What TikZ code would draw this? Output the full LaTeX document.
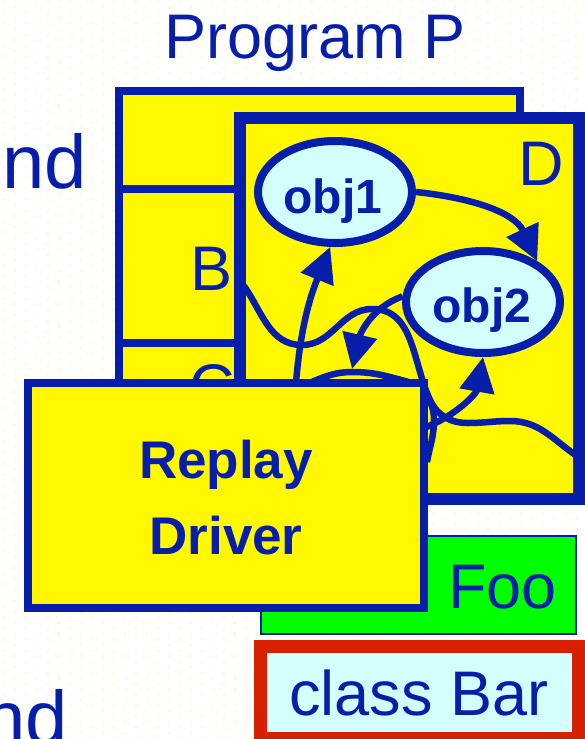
\documentclass[tikz,border=0pt]{standalone}
\usepackage{fontspec}
\setmainfont{Liberation Sans}
\usetikzlibrary{arrows.meta,shapes.geometric}
\definecolor{dblue}{RGB}{6,30,170}
\definecolor{yel}{RGB}{255,248,0}
\definecolor{lcyan}{RGB}{212,255,255}
\definecolor{lgreen}{RGB}{0,255,0}
\definecolor{bred}{RGB}{215,32,0}
\definecolor{dotc}{RGB}{255,250,208}
\begin{document}
\begin{tikzpicture}[x=1pt,y=1pt,
  yellowbox/.style={draw=dblue, fill=yel, line width=#1, inner sep=0pt},
  objell/.style={ellipse, draw=dblue, fill=lcyan, line width=8pt, inner sep=0pt,
    minimum width=154pt, minimum height=102pt},
  lbl/.style={text=dblue, inner sep=0pt},
  big/.style={font=\fontsize{63}{70}\selectfont},
  huge/.style={font=\fontsize{76}{80}\selectfont},
  boldbig/.style={font=\fontsize{53}{60}\selectfont\bfseries},
  boldobj/.style={font=\fontsize{48}{54}\selectfont\bfseries},
  wave/.style={draw=dblue, line width=6.5pt},
  arr/.style={draw=dblue, line width=6.5pt, -{Triangle[length=35pt,width=34pt]}},
  divider/.style={draw=dblue, line width=8pt}
]
\fill[white] (0,0) rectangle (584,-739);
\useasboundingbox (0,0) rectangle (584,-739);
% faint dotted background
\foreach \k in {0,...,134} {
  \pgfmathsetmacro{\xs}{mod(\k,2)==0 ? 4 : 15}
  \foreach \i in {0,...,26} {
    \fill[dotc] (\xs+22*\i, -1.7-5.5*\k) circle (1.5);
  }
}

% title and side texts
\node[lbl,big,anchor=base] (title) at (315,-58.5) {Program P};
\node[lbl,huge,anchor=base east] (nda) at (87,-188) {nd};
\node[lbl,huge,anchor=base east] (ndb) at (68,-744) {nd};

% back box A with B and C
\node[yellowbox=8pt, minimum width=401pt, minimum height=369pt] (boxA) at (319.5,-275.5) {};
\draw[divider] (119,-189) -- (240,-189);
\draw[divider] (119,-343) -- (240,-343);
\node[lbl,big,anchor=base east] (labB) at (233,-290) {B};
\node[lbl,big,anchor=base east] (labC) at (235,-408) {C};

% box D
\node[yellowbox=12pt, minimum width=339pt, minimum height=381.5pt] (boxD) at (409.5,-308.25) {};
\node[lbl,big,anchor=base east] (labD) at (564,-185) {D};

% wavy boundary inside D
\draw[wave] (244,-286) to[out=-55,in=180] (302,-345) to[out=0,in=180] (372,-309)
  to[out=0,in=115] (430,-400) to[out=-65,in=180] (468,-423) to[out=0,in=180] (510,-421)
  to[out=0,in=146] (577,-456);
% bump of the hidden region behind the driver
\draw[wave] (285,-392) to[out=15,in=180] (352,-372) to[out=0,in=165] (405,-381)
  to[out=-15,in=90] (434,-420) to[out=-90,in=80] (427,-462);

% objects
\node[objell] (obj1) at (335,-192) {};
\node[objell] (obj2) at (483,-302) {};
\node[lbl,boldobj,anchor=base] (t1) at (333,-213) {obj1};
\node[lbl,boldobj,anchor=base] (t2) at (482,-322) {obj2};

% arrows
\coordinate (a1s) at (295,-395);
\coordinate (a4s) at (424,-428);
\coordinate (bumptop) at (352,-369);
\draw[arr] (a1s) to[out=86,in=-112] (obj1.-95);
\draw[arr] (obj1.east) to[out=-6,in=115] (obj2.37);
\draw[arr] (obj2.176) to[out=200,in=77] (bumptop);
\draw[arr] (a4s) to[out=21,in=-100] (obj2.south);

% Foo box
\node[draw=dblue, fill=lgreen, line width=2pt, inner sep=0pt,
  minimum width=315pt, minimum height=98pt] (foo) at (418.5,-585) {};
\node[lbl,big,anchor=base east] (labFoo) at (557,-608) {Foo};

% Replay driver
\node[yellowbox=8pt, minimum width=396pt, minimum height=225pt] (replay) at (226,-495.5) {};
\node[lbl,boldbig,anchor=base] (rt1) at (226,-478) {Replay};
\node[lbl,boldbig,anchor=base] (rt2) at (226,-554) {Driver};

% class Bar
\node[draw=bred, fill=lcyan, line width=13pt, inner sep=0pt,
  minimum width=317.5pt, minimum height=91.5pt] (bar) at (419.25,-692.25) {};
\node[lbl,big,anchor=base] (labBar) at (419,-715) {class Bar};
\end{tikzpicture}
\end{document}
